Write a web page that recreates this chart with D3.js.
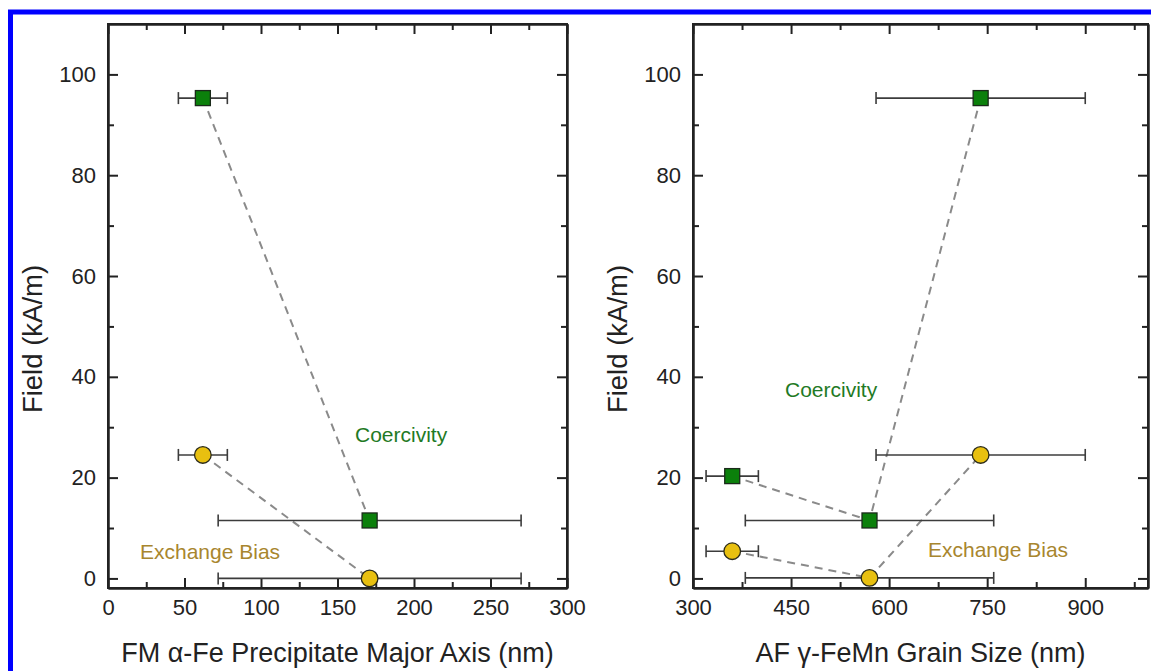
<!DOCTYPE html>
<html>
<head>
<meta charset="utf-8">
<script src="https://cdn.jsdelivr.net/npm/d3@7"></script>
<style>
  html, body { margin: 0; padding: 0; background: #fff; }
  svg { display: block; font-family: Arial, "Liberation Sans", sans-serif; }
  .axis path { stroke: #222; stroke-width: 2; }
  .axis line { stroke: #222; stroke-width: 2; }
  .axis text { fill: #222; font-size: 22px; }
</style>
</head>
<body>
<svg id="chart" width="1151" height="671"></svg>
<script>
// values
const leftSize = [62, 171];
const leftSizeLow = [46, 72];
const leftSizeHigh = [78, 270];
const leftCoercivity = [95.3, 11.5];
const leftExchangeBias = [24.5, 0];

const rightSize = [360, 570, 740];
const rightSizeLow = [320, 380, 580];
const rightSizeHigh = [400, 760, 900];
const rightCoercivity = [20.3, 11.5, 95.3];
const rightExchangeBias = [5.4, 0.1, 24.5];

const yMajor = [0, 20, 40, 60, 80, 100];
const yMinor = [10, 30, 50, 70, 90];
const leftXMajor = [0, 50, 100, 150, 200, 250, 300];
const leftXMinor = [25, 75, 125, 175, 225, 275];
const rightXMajor = [300, 450, 600, 750, 900];
const rightXMinor = [375, 525, 675, 825, 975];

const svg = d3.select("#chart");

// blue frame around the figure (right / bottom edges fall outside)
svg.append("rect")
    .attr("x", 10.5).attr("y", 12)
    .attr("width", 1200).attr("height", 700)
    .attr("fill", "#fff")
    .attr("stroke", "#0000ff")
    .attr("stroke-width", 5);

const plotTop = 24, plotBottom = 588;
const y = d3.scaleLinear().domain([-1.9, 110]).range([plotBottom, plotTop]);

function drawPanel(p) {
    const x = d3.scaleLinear().domain(p.xDomain).range([p.x0, p.x1]);
    const g = svg.append("g");

    // ticks, all pointing inward, mirrored on top / right
    const axes = [
        [d3.axisBottom(x).tickValues(p.xMajor).tickSize(-10).tickSizeOuter(0).tickPadding(11), `translate(0,${plotBottom})`],
        [d3.axisBottom(x).tickValues(p.xMinor).tickSize(-6).tickSizeOuter(0).tickFormat(""), `translate(0,${plotBottom})`],
        [d3.axisTop(x).tickValues(p.xMajor).tickSize(-10).tickSizeOuter(0).tickFormat(""), `translate(0,${plotTop})`],
        [d3.axisTop(x).tickValues(p.xMinor).tickSize(-6).tickSizeOuter(0).tickFormat(""), `translate(0,${plotTop})`],
        [d3.axisLeft(y).tickValues(yMajor).tickSize(-10).tickSizeOuter(0).tickPadding(12), `translate(${p.x0},0)`],
        [d3.axisLeft(y).tickValues(yMinor).tickSize(-6).tickSizeOuter(0).tickFormat(""), `translate(${p.x0},0)`],
        [d3.axisRight(y).tickValues(yMajor).tickSize(-10).tickSizeOuter(0).tickFormat(""), `translate(${p.x1},0)`],
        [d3.axisRight(y).tickValues(yMinor).tickSize(-6).tickSizeOuter(0).tickFormat(""), `translate(${p.x1},0)`]
    ];
    axes.forEach(([ax, tr]) => {
        const a = g.append("g").attr("class", "axis").attr("transform", tr).call(ax);
        a.attr("font-family", null).attr("font-size", null);
    });

    g.append("rect")
        .attr("x", p.x0).attr("y", plotTop)
        .attr("width", p.x1 - p.x0).attr("height", plotBottom - plotTop)
        .attr("fill", "none").attr("stroke", "#222").attr("stroke-width", 2);

    // axis titles
    g.append("text")
        .attr("x", (p.x0 + p.x1) / 2).attr("y", 662)
        .attr("text-anchor", "middle")
        .attr("font-size", 27).attr("fill", "#222")
        .text(p.xTitle);
    g.append("text")
        .attr("transform", `translate(${p.x0 - 66},339) rotate(-90)`)
        .attr("text-anchor", "middle")
        .attr("font-size", 27.5).attr("fill", "#222")
        .text("Field (kA/m)");

    const line = d3.line().x(d => x(d[0])).y(d => y(d[1]));
    const series = [
        { vals: p.coercivity, kind: "square" },
        { vals: p.exchange, kind: "circle" }
    ];

    series.forEach(s => {
        g.append("path")
            .datum(p.size.map((v, i) => [v, s.vals[i]]))
            .attr("d", line)
            .attr("fill", "none")
            .attr("stroke", "#8a8a8a")
            .attr("stroke-width", 2)
            .attr("stroke-dasharray", "8,6");
    });

    series.forEach(s => {
        const pts = p.size.map((v, i) => ({ x: v, lo: p.low[i], hi: p.high[i], y: s.vals[i] }));
        const eb = g.append("g").attr("stroke", "#3c3c3c").attr("stroke-width", 1.6);
        pts.forEach(d => {
            eb.append("line").attr("x1", x(d.lo)).attr("x2", x(d.hi)).attr("y1", y(d.y)).attr("y2", y(d.y));
            [d.lo, d.hi].forEach(e => {
                eb.append("line").attr("x1", x(e)).attr("x2", x(e)).attr("y1", y(d.y) - 6).attr("y2", y(d.y) + 6);
            });
        });
        if (s.kind === "square") {
            g.selectAll(null).data(pts).enter().append("rect")
                .attr("x", d => x(d.x) - 7.5).attr("y", d => y(d.y) - 7.5)
                .attr("width", 15).attr("height", 15)
                .attr("fill", "#0b800b").attr("stroke", "#1a2a1a").attr("stroke-width", 1.3);
        } else {
            g.selectAll(null).data(pts).enter().append("circle")
                .attr("cx", d => x(d.x)).attr("cy", d => y(d.y)).attr("r", 8.3)
                .attr("fill", "#e8c010").attr("stroke", "#2a2a1a").attr("stroke-width", 1.3);
        }
    });

    g.append("text").attr("x", p.coerLabel[0]).attr("y", p.coerLabel[1])
        .attr("font-size", 21).attr("fill", "#1f7a25").text("Coercivity");
    g.append("text").attr("x", p.ebLabel[0]).attr("y", p.ebLabel[1])
        .attr("font-size", 21).attr("fill", "#a8862e").text("Exchange Bias");
}

drawPanel({
    x0: 108, x1: 567, xDomain: [0, 300],
    xMajor: leftXMajor, xMinor: leftXMinor,
    size: leftSize, low: leftSizeLow, high: leftSizeHigh,
    coercivity: leftCoercivity, exchange: leftExchangeBias,
    xTitle: "FM \u03b1-Fe Precipitate Major Axis (nm)",
    coerLabel: [355, 442], ebLabel: [140, 559]
});

drawPanel({
    x0: 693, x1: 1148, xDomain: [300, 996],
    xMajor: rightXMajor, xMinor: rightXMinor,
    size: rightSize, low: rightSizeLow, high: rightSizeHigh,
    coercivity: rightCoercivity, exchange: rightExchangeBias,
    xTitle: "AF \u03b3-FeMn Grain Size (nm)",
    coerLabel: [785, 397], ebLabel: [928, 557]
});
</script>
</body>
</html>
